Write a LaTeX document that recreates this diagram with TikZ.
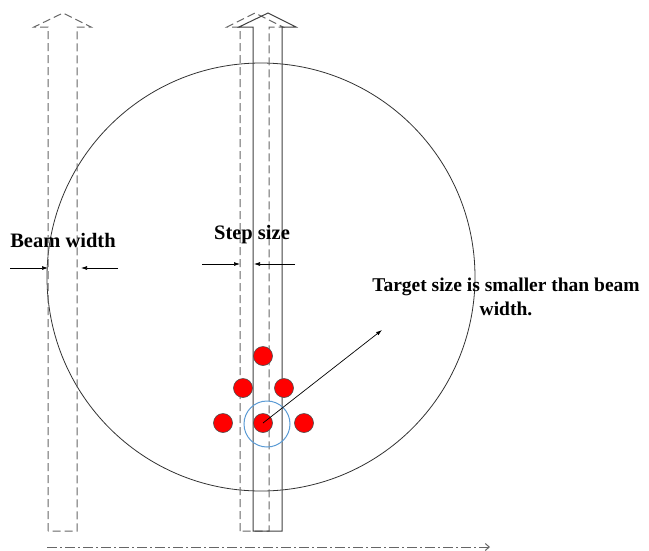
\documentclass[tikz,border=0pt]{standalone}
\usepackage{fontspec}
\setmainfont{Liberation Serif}
\usetikzlibrary{arrows.meta}
\begin{document}
\begin{tikzpicture}[x=1pt,y=-1pt,
  dashedbeam/.style={draw=black!60, line width=1pt, dash pattern=on 8pt off 4pt},
  solidbeam/.style={draw=black!75, line width=1pt},
  dimarrow/.style={draw=black, line width=0.7pt, -{Latex[length=6pt,width=4pt]}},
  reddot/.style={circle, fill=red, draw=black!70, line width=0.6pt, minimum size=19pt, inner sep=0pt},
  lbl/.style={font=\bfseries\fontsize{20.5}{25}\selectfont, inner sep=0pt}]
\useasboundingbox (0,0) rectangle (649,550);
% big circle
\draw[black!80, line width=0.8pt] (261,277) circle[radius=214];
% left dashed beam
\draw[dashedbeam] (48,531) -- (48,27) -- (34,27) -- (63,13) -- (91,27) -- (77,27) -- (77,531) -- cycle;
% middle dashed beam
\draw[dashedbeam] (240,531) -- (240,27) -- (227,27) -- (255,13) -- (283,27) -- (269,27) -- (269,531) -- cycle;
% middle solid beam
\draw[solidbeam] (253,531) -- (253,27) -- (239,27) -- (268,13) -- (296,27) -- (282,27) -- (282,531) -- cycle;
% bottom dash-dot axis
\coordinate (axs) at (47,547);
\coordinate (axe) at (490,547);
\draw[black!60, line width=1pt, dash pattern=on 10pt off 3pt on 2pt off 3pt, -{Straight Barb[length=4pt,width=7pt]}] (axs) -- (axe);
% labels
\node[lbl] (bw) at (63,240) {Beam width};
\node[lbl] (ss) at (252,235) {Step size};
\node[lbl, align=center, font=\bfseries\fontsize{19.5}{24}\selectfont] (ts) at (506,297) {Target size is smaller than beam\\width.};
% dimension arrows
\coordinate (bw1s) at (10,268); \coordinate (bw1e) at (48,268);
\coordinate (bw2s) at (118,268); \coordinate (bw2e) at (81,268);
\draw[dimarrow] (bw1s) -- (bw1e);
\draw[dimarrow] (bw2s) -- (bw2e);
\coordinate (ss1s) at (202,264); \coordinate (ss1e) at (240,264);
\coordinate (ss2s) at (295,264); \coordinate (ss2e) at (254,264);
\draw[dimarrow] (ss1s) -- (ss1e);
\draw[dimarrow] (ss2s) -- (ss2e);
% blue circle
\draw[draw={rgb,255:red,91;green,155;blue,213}, line width=1pt] (267,424) circle[radius=23];
% red dots
\node[reddot] (d1) at (263,356) {};
\node[reddot] (d2) at (243,388) {};
\node[reddot] (d3) at (284,388) {};
\node[reddot] (d4) at (223,423) {};
\node[reddot] (d5) at (263,423) {};
\node[reddot] (d6) at (304,423) {};
% pointer arrow
\coordinate (pt) at (382,330);
\draw[dimarrow] (d5.center) -- (pt);
\end{tikzpicture}
\end{document}
